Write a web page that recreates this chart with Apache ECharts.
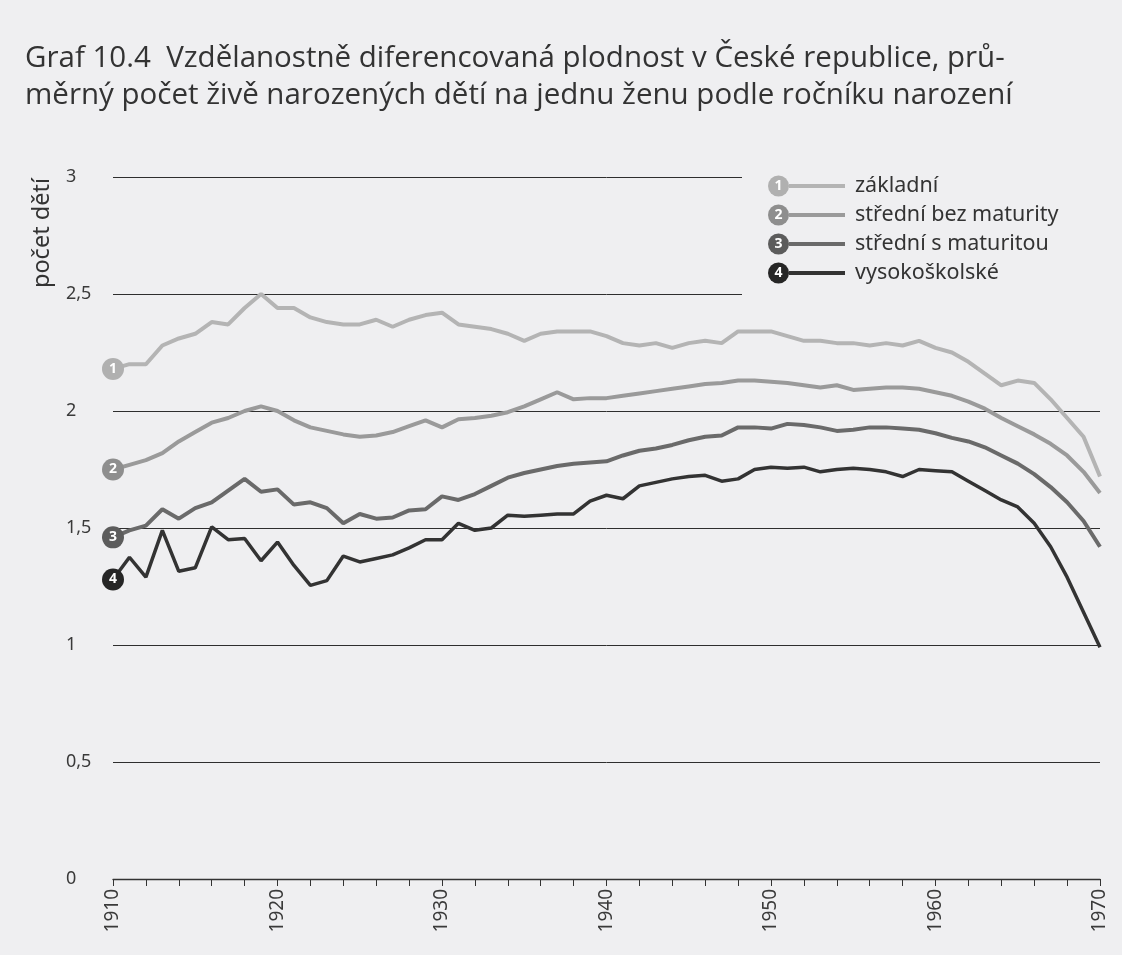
<!DOCTYPE html>
<html>
<head>
<meta charset="utf-8">
<script src="https://cdn.jsdelivr.net/npm/echarts@6/dist/echarts.min.js"></script>
<style>
  html, body { margin: 0; padding: 0; background: #efeff1; }
  #chart { width: 1122px; height: 955px; }
</style>
</head>
<body>
<div id="chart"></div>
<script>
// ročníky narození
const years = [
  1910, 1911, 1912, 1913, 1914, 1915, 1916, 1917, 1918, 1919,
  1920, 1921, 1922, 1923, 1924, 1925, 1926, 1927, 1928, 1929,
  1930, 1931, 1932, 1933, 1934, 1935, 1936, 1937, 1938, 1939,
  1940, 1941, 1942, 1943, 1944, 1945, 1946, 1947, 1948, 1949,
  1950, 1951, 1952, 1953, 1954, 1955, 1956, 1957, 1958, 1959,
  1960, 1961, 1962, 1963, 1964, 1965, 1966, 1967, 1968, 1969,
  1970
];

const seriesNames = ['základní', 'střední bez maturity', 'střední s maturitou', 'vysokoškolské'];

// 1 - základní
const zakladni = [
  2.18, 2.20, 2.20, 2.28, 2.31, 2.33, 2.38, 2.37, 2.44, 2.50,
  2.44, 2.44, 2.40, 2.38, 2.37, 2.37, 2.39, 2.36, 2.39, 2.41,
  2.42, 2.37, 2.36, 2.35, 2.33, 2.30, 2.33, 2.34, 2.34, 2.34,
  2.32, 2.29, 2.28, 2.29, 2.27, 2.29, 2.30, 2.29, 2.34, 2.34,
  2.34, 2.32, 2.30, 2.30, 2.29, 2.29, 2.28, 2.29, 2.28, 2.30,
  2.27, 2.25, 2.21, 2.16, 2.11, 2.13, 2.12, 2.05, 1.97, 1.89,
  1.72
];

// 2 - střední bez maturity
const stredniBez = [
  1.75, 1.77, 1.79, 1.82, 1.87, 1.91, 1.95, 1.97, 2.00, 2.02,
  2.00, 1.96, 1.93, 1.915, 1.90, 1.89, 1.895, 1.91, 1.935, 1.96,
  1.93, 1.965, 1.97, 1.98, 1.995, 2.02, 2.05, 2.08, 2.05, 2.055,
  2.055, 2.065, 2.075, 2.085, 2.095, 2.105, 2.115, 2.12, 2.13, 2.13,
  2.125, 2.12, 2.11, 2.10, 2.11, 2.09, 2.095, 2.10, 2.10, 2.095,
  2.08, 2.065, 2.04, 2.01, 1.97, 1.935, 1.90, 1.86, 1.81, 1.74,
  1.65
];

// 3 - střední s maturitou
const stredniS = [
  1.46, 1.49, 1.51, 1.58, 1.54, 1.585, 1.61, 1.66, 1.71, 1.655,
  1.665, 1.60, 1.61, 1.585, 1.52, 1.56, 1.54, 1.545, 1.575, 1.58,
  1.635, 1.62, 1.645, 1.68, 1.715, 1.735, 1.75, 1.765, 1.775, 1.78,
  1.785, 1.81, 1.83, 1.84, 1.855, 1.875, 1.89, 1.895, 1.93, 1.93,
  1.925, 1.945, 1.94, 1.93, 1.915, 1.92, 1.93, 1.93, 1.925, 1.92,
  1.905, 1.885, 1.87, 1.845, 1.81, 1.775, 1.73, 1.675, 1.61, 1.53,
  1.42
];

// 4 - vysokoškolské
const vysokoskolske = [
  1.28, 1.375, 1.29, 1.49, 1.315, 1.33, 1.505, 1.45, 1.455, 1.36,
  1.44, 1.34, 1.255, 1.275, 1.38, 1.355, 1.37, 1.385, 1.415, 1.45,
  1.45, 1.52, 1.49, 1.50, 1.555, 1.55, 1.555, 1.56, 1.56, 1.615,
  1.64, 1.625, 1.68, 1.695, 1.71, 1.72, 1.725, 1.70, 1.71, 1.75,
  1.76, 1.755, 1.76, 1.74, 1.75, 1.755, 1.75, 1.74, 1.72, 1.75,
  1.745, 1.74, 1.70, 1.66, 1.62, 1.59, 1.52, 1.42, 1.29, 1.14,
  0.99
];

const values = [zakladni, stredniBez, stredniS, vysokoskolske];
const badgeNums = ['1', '2', '3', '4'];

const lineColors = ['#b4b4b4', '#9a9a9a', '#6a6a6a', '#333333'];
const badgeColors = ['#b0b0b0', '#8e8e8e', '#5c5c5c', '#262626'];
const FONT = 'Noto Sans';

const chart = echarts.init(document.getElementById('chart'));

const series = seriesNames.map((name, i) => ({
  name: name,
  type: 'line',
  data: years.map((y, j) => [y, values[i][j]]),
  symbol: 'none',
  z: 3 + i,
  lineStyle: { color: lineColors[i], width: i === 3 ? 3.5 : 4 },
  itemStyle: { color: lineColors[i] },
  markPoint: {
    silent: true,
    z: 20,
    symbol: 'circle',
    symbolSize: 22,
    data: [{ coord: [years[0], values[i][0]], value: badgeNums[i] }],
    itemStyle: { color: badgeColors[i] },
    label: { show: true, formatter: '{c}', color: '#fff', fontWeight: 'bold', fontSize: 14, fontFamily: FONT }
  }
}));

// rich styly pro legendu (číslo v kroužku + čára)
const rich = { t: { fontSize: 21.5, color: '#333', fontFamily: FONT, padding: [0, 0, 0, 10] } };
seriesNames.forEach((n, i) => {
  rich['b' + i] = {
    width: 21, height: 21, lineHeight: 21, borderRadius: 10.5, align: 'center',
    backgroundColor: badgeColors[i], color: '#fff', fontWeight: 'bold', fontSize: 14, fontFamily: FONT
  };
  rich['l' + i] = { width: 56, height: 4, backgroundColor: lineColors[i] };
});

const option = {
  backgroundColor: '#efeff1',
  animation: false,
  title: {
    text: 'Graf 10.4  Vzdělanostně diferencovaná plodnost v České republice, prů-\nměrný počet živě narozených dětí na jednu ženu podle ročníku narození',
    left: 20,
    top: 35,
    textStyle: { fontSize: 29.5, fontWeight: 'normal', color: '#333', lineHeight: 37, fontFamily: 'Open Sans' }
  },
  legend: {
    orient: 'vertical',
    left: 742,
    top: 169,
    itemGap: 7,
    padding: [6, 80, 24, 20],
    backgroundColor: '#efeff1',
    selectedMode: false,
    icon: 'rect',
    itemWidth: 1,
    itemHeight: 1,
    itemStyle: { opacity: 0 },
    lineStyle: { opacity: 0 },
    data: seriesNames,
    formatter: function (name) {
      const i = seriesNames.indexOf(name);
      return '{b' + i + '|' + badgeNums[i] + '}{l' + i + '|}{t|' + name + '}';
    },
    textStyle: { fontSize: 21.5, color: '#333', fontFamily: FONT, rich: rich }
  },
  graphic: [{
    type: 'text',
    left: 30,
    top: 178,
    rotation: Math.PI / 2,
    style: { text: 'počet dětí', fontSize: 23.5, fill: '#333', fontFamily: FONT }
  }],
  grid: { left: 113, right: 22, top: 177, bottom: 76 },
  xAxis: {
    type: 'value',
    min: 1910,
    max: 1970,
    interval: 10,
    axisLine: { lineStyle: { color: '#333', width: 1.4 } },
    axisTick: { show: true, length: 7, lineStyle: { color: '#333' } },
    minorTick: { show: true, splitNumber: 5, length: 7, lineStyle: { color: '#333' } },
    splitLine: { show: false },
    axisLabel: {
      rotate: 90, fontSize: 19, margin: 10, color: '#3a3a3a', fontFamily: FONT,
      formatter: v => String(v)
    }
  },
  yAxis: {
    type: 'value',
    min: 0,
    max: 3,
    interval: 0.5,
    axisLine: { show: false },
    axisTick: { show: false },
    splitLine: { lineStyle: { color: '#2e2e2e', width: 1 } },
    axisLabel: {
      fontSize: 18, color: '#3a3a3a', margin: 47, align: 'left', fontFamily: FONT,
      formatter: v => String(v).replace('.', ',')
    }
  },
  series: series
};

chart.setOption(option);
</script>
</body>
</html>
